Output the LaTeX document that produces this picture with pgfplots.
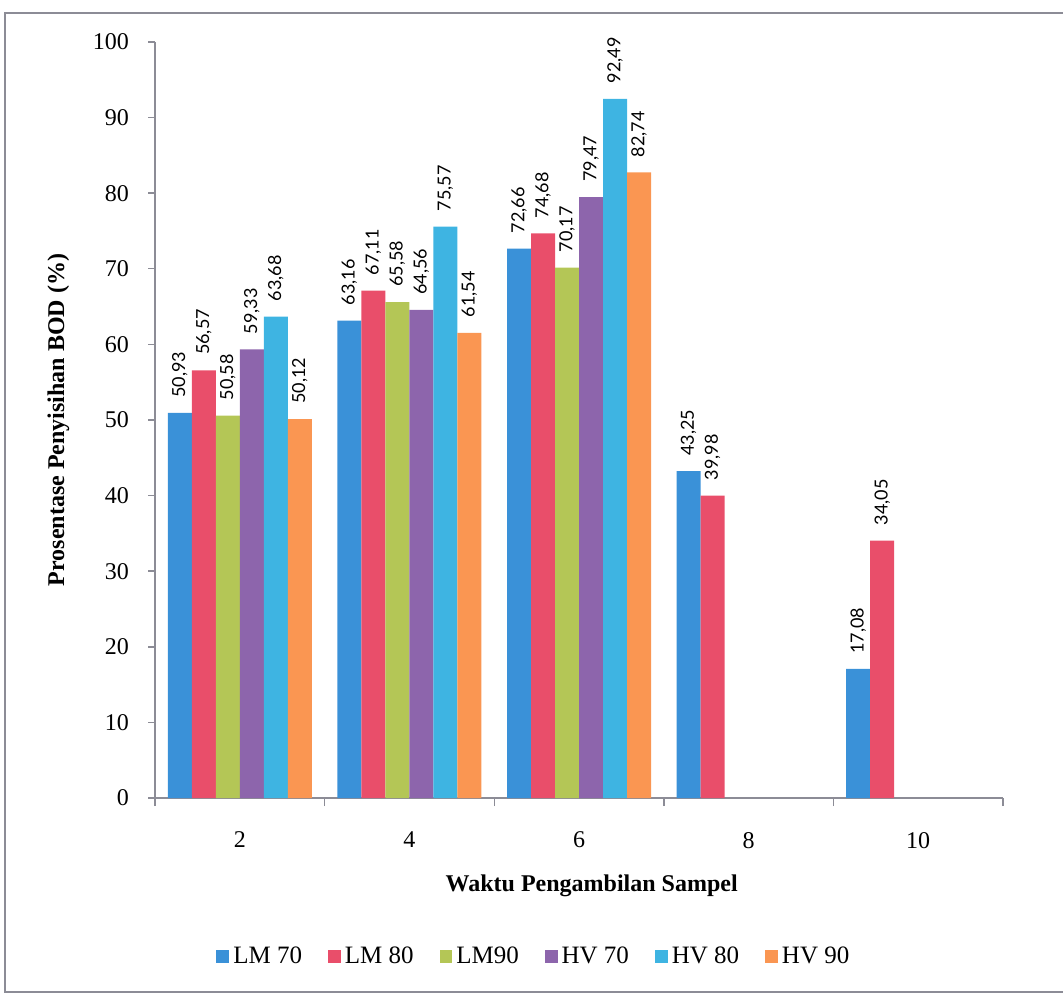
\documentclass[border=0pt]{standalone}
\usepackage{pgfplots}
\pgfplotsset{compat=1.18}
\usepackage{fontspec}
\setmainfont{Liberation Serif}
\newfontfamily\lblfont{Lato}

\definecolor{cLMa}{RGB}{58,145,216}
\definecolor{cLMb}{RGB}{233,78,106}
\definecolor{cLMc}{RGB}{180,198,86}
\definecolor{cHVa}{RGB}{141,101,172}
\definecolor{cHVb}{RGB}{62,180,226}
\definecolor{cHVc}{RGB}{250,150,82}
\definecolor{axgray}{RGB}{140,140,150}

\pgfplotsset{
  mybar/.style={fill=#1, draw=none,
    legend image code/.code={\fill[#1] (0pt,-3.2pt) rectangle (6.4pt,3.2pt);}},
}

\begin{document}
\begin{tikzpicture}
\useasboundingbox (0,0) rectangle (531.5pt,497.5pt);
% outer frame
\draw[axgray, line width=0.7pt] (531.5pt,491pt) -- (2.5pt,491pt) -- (2.5pt,1.5pt) -- (531.5pt,1.5pt);

\begin{axis}[
  at={(77.5pt,98.5pt)}, anchor=south west,
  scale only axis, width=424pt, height=378pt,
  ybar=0pt, bar width=12pt,
  xmin=-0.5, xmax=4.5,
  ymin=0, ymax=100,
  ytick={0,10,...,100},
  xtick={0,1,2,3,4},
  xticklabels={2,4,6,8,10},
  minor xtick={-0.5,0.5,...,4.5},
  major x tick style={draw=none},
  minor tick length=4pt,
  major tick length=3.5pt,
  tick align=outside,
  axis x line*=bottom, axis y line*=left,
  axis line style={axgray, line width=0.7pt},
  every tick/.style={axgray, line width=0.7pt},
  tick label style={font=\fontsize{12}{14}\selectfont, /pgf/number format/assume math mode=true},
  xticklabel style={yshift=-10pt},
  yticklabel style={xshift=-6pt},
  xlabel={Waktu Pengambilan Sampel},
  ylabel={Prosentase Penyisihan BOD (\%)},
  every axis x label/.style={at={(axis description cs:0.515,-0.116)}, anchor=center,
    font=\fontsize{12}{14}\selectfont\bfseries},
  every axis y label/.style={at={(axis description cs:-0.114,0.5)}, rotate=90, anchor=center,
    font=\fontsize{12}{14}\selectfont\bfseries},
  nodes near coords={\lblfont\pgfmathprintnumber[fixed, fixed zerofill, precision=2, use comma, assume math mode=true]{\pgfplotspointmeta}},
  every node near coord/.append style={rotate=90, anchor=west, inner xsep=7.5pt, inner ysep=0pt, font=\fontsize{9}{11}\selectfont, black},
  legend columns=6,
  legend style={at={(axis description cs:0.448,-0.21)}, anchor=center, draw=none,
    font=\fontsize{12.5}{14}\selectfont,
    /tikz/every even column/.append style={column sep=11pt}},
  legend cell align=left,
  clip=false,
]
\addplot[mybar=cLMa] coordinates {(0,50.93) (1,63.16) (2,72.66) (3,43.25) (4,17.08)};
\addplot[mybar=cLMb] coordinates {(0,56.57) (1,67.11) (2,74.68) (3,39.98) (4,34.05)};
\addplot[mybar=cLMc] coordinates {(0,50.58) (1,65.58) (2,70.17)};
\addplot[mybar=cHVa] coordinates {(0,59.33) (1,64.56) (2,79.47)};
\addplot[mybar=cHVb] coordinates {(0,63.68) (1,75.57) (2,92.49)};
\addplot[mybar=cHVc] coordinates {(0,50.12) (1,61.54) (2,82.74)};
\legend{LM 70, LM 80, LM90, HV 70, HV 80, HV 90}
\end{axis}
\end{tikzpicture}
\end{document}
